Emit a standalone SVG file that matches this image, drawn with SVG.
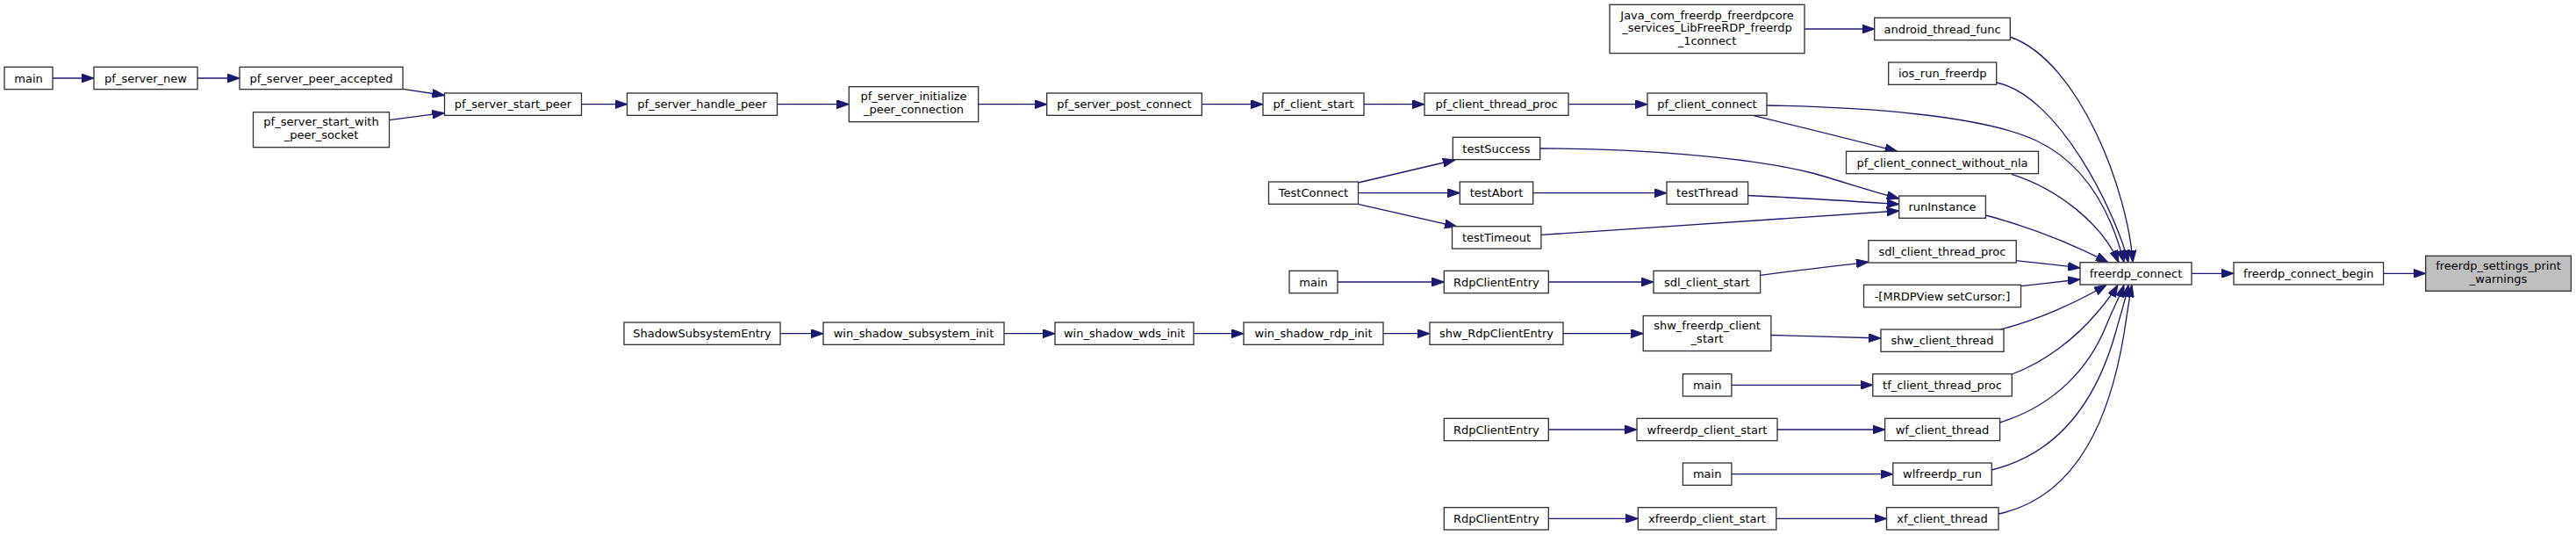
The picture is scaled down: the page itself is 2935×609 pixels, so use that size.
<svg xmlns="http://www.w3.org/2000/svg" width="2935" height="609" viewBox="0 0 2935 609">
<style>
.n rect{fill:#fff;stroke:#333;stroke-width:1.33}
.n.hl rect{fill:#bfbfbf}
.n text{font-family:"DejaVu Sans","Liberation Sans",sans-serif;font-size:13px;text-anchor:middle;fill:#000}
.e path{fill:none;stroke:#191970;stroke-width:1.33;marker-end:url(#a)}
</style>
<defs>
<marker id="a" markerUnits="userSpaceOnUse" markerWidth="14" markerHeight="10" refX="13.3" refY="4.67" orient="auto" viewBox="0 0 13.3 9.34">
<path d="M0,0 L13.3,4.67 L0,9.34 z" fill="#191970" stroke="#191970" stroke-width="1"/>
</marker>
</defs>
<rect width="2935" height="609" fill="#fff"/>
<g class="e" id="connectors">
<path d="M60,89 H107"/>
<path d="M225,89 H273"/>
<path d="M459,101.3 C473,103.3 489,105.8 506.5,108.5"/>
<path d="M443.5,136.7 C463,134 485,131.2 506.5,128.6"/>
<path d="M662.5,118.7 H714.5"/>
<path d="M885.5,118.7 H967.3"/>
<path d="M1114.7,118.7 H1192.7"/>
<path d="M1369.3,118.7 H1439"/>
<path d="M1554,118.7 H1623"/>
<path d="M1787,118.7 H1877"/>
<path d="M2056,33 H2135.7"/>
<path d="M2290.3,42 C2370,70 2425,220 2430,298.7"/>
<path d="M2274.7,94 C2345,108 2410,240 2425,298.7"/>
<path d="M2013,120 C2130,122 2260,132 2320,160 C2375,186 2405,240 2420,298.7"/>
<path d="M1998,131.7 C2050,144 2110,159 2161.7,172.3"/>
<path d="M2292,198.3 C2345,215 2395,255 2414,298.7"/>
<path d="M1754.7,169 C1860,169 1990,178 2065,197 C2097,206 2130,217 2163.7,226"/>
<path d="M1547.3,208 L1658,182"/>
<path d="M1547.5,219.7 H1663.3"/>
<path d="M1547.3,232.3 L1660,258"/>
<path d="M1746.7,219.7 H1899"/>
<path d="M1991.6,222.5 C2050,225 2110,229 2163.7,232.5"/>
<path d="M1755.9,267.3 C1900,258 2050,248 2163.7,240"/>
<path d="M2262.4,245 C2300,255 2350,272 2402,298.7"/>
<path d="M2297.2,296.7 C2320,299 2345,302 2370,305"/>
<path d="M1524,321 H1645.3"/>
<path d="M1764.3,321 H1884"/>
<path d="M2005.6,313.3 C2045,308 2088,303 2128.9,298.3"/>
<path d="M2302.6,325.7 C2325,323 2348,320.5 2370,318"/>
<path d="M889,379.7 H938"/>
<path d="M1144,379.7 H1202"/>
<path d="M1360,379.7 H1417"/>
<path d="M1576,379.7 H1629"/>
<path d="M1781,379.7 H1872.2"/>
<path d="M2017.9,381.5 C2060,382.5 2100,383.8 2143,385"/>
<path d="M2278.9,375 C2320,365 2365,345 2400,324.3"/>
<path d="M1973,438.3 H2133.8"/>
<path d="M2292.3,426 C2330,412 2365,385 2390,355 C2400,343 2408,333 2413,324.3"/>
<path d="M1764.3,489 H1865"/>
<path d="M2025,489 H2147.6"/>
<path d="M2278.5,481 C2340,462 2380,420 2400,370 C2408,350 2416,336 2420,324.3"/>
<path d="M1973,539.7 H2156.8"/>
<path d="M2269.3,535 C2350,515 2390,450 2410,380 C2417,355 2422,340 2425,324.3"/>
<path d="M1764.3,590.3 H1866.3"/>
<path d="M2023.8,590.3 H2149.5"/>
<path d="M2277,585 C2370,565 2405,470 2420,380 C2423,360 2426,340 2429,324.3"/>
<path d="M2497,311.3 H2545"/>
<path d="M2715.6,311.3 H2763.7"/>
</g>
<g class="n" id="main_pf"><rect x="5" y="76.3" width="55" height="25.33"/><text x="32.5" y="93.5">main</text></g>
<g class="n" id="pf_server_new"><rect x="107" y="76.3" width="118" height="25.33"/><text x="166" y="93.5">pf_server_new</text></g>
<g class="n" id="pf_server_peer_accepted"><rect x="273" y="76.3" width="186" height="25.33"/><text x="366" y="93.5">pf_server_peer_accepted</text></g>
<g class="n" id="pf_server_start_with_peer_socket"><rect x="288.5" y="127.7" width="155" height="40"/><text x="366" y="143.3">pf_server_start_with</text><text x="366" y="158.3">_peer_socket</text></g>
<g class="n" id="pf_server_start_peer"><rect x="506.5" y="106" width="156" height="25.33"/><text x="584.5" y="123.2">pf_server_start_peer</text></g>
<g class="n" id="pf_server_handle_peer"><rect x="714.5" y="106" width="171" height="25.33"/><text x="800" y="123.2">pf_server_handle_peer</text></g>
<g class="n" id="ShadowSubsystemEntry"><rect x="711" y="367" width="178" height="25.33"/><text x="800" y="384.2">ShadowSubsystemEntry</text></g>
<g class="n" id="pf_server_initialize_peer_connection"><rect x="967.3" y="98.7" width="147.4" height="40"/><text x="1041" y="114.3">pf_server_initialize</text><text x="1041" y="129.3">_peer_connection</text></g>
<g class="n" id="win_shadow_subsystem_init"><rect x="938" y="367" width="206" height="25.33"/><text x="1041" y="384.2">win_shadow_subsystem_init</text></g>
<g class="n" id="pf_server_post_connect"><rect x="1192.7" y="106" width="176.6" height="25.33"/><text x="1281" y="123.2">pf_server_post_connect</text></g>
<g class="n" id="win_shadow_wds_init"><rect x="1202" y="367" width="158" height="25.33"/><text x="1281" y="384.2">win_shadow_wds_init</text></g>
<g class="n" id="pf_client_start"><rect x="1439" y="106" width="115" height="25.33"/><text x="1496.5" y="123.2">pf_client_start</text></g>
<g class="n" id="TestConnect"><rect x="1445.5" y="207" width="102" height="25.33"/><text x="1496.5" y="224.2">TestConnect</text></g>
<g class="n" id="main_sdl"><rect x="1469" y="308.3" width="55" height="25.33"/><text x="1496.5" y="325.5">main</text></g>
<g class="n" id="win_shadow_rdp_init"><rect x="1417" y="367" width="159" height="25.33"/><text x="1496.5" y="384.2">win_shadow_rdp_init</text></g>
<g class="n" id="pf_client_thread_proc"><rect x="1623" y="106" width="164" height="25.33"/><text x="1705" y="123.2">pf_client_thread_proc</text></g>
<g class="n" id="testSuccess"><rect x="1655.3" y="156.3" width="99.4" height="25.33"/><text x="1705" y="173.5">testSuccess</text></g>
<g class="n" id="testAbort"><rect x="1663.3" y="207" width="83.4" height="25.33"/><text x="1705" y="224.2">testAbort</text></g>
<g class="n" id="testTimeout"><rect x="1654.5" y="257.7" width="101.4" height="25.33"/><text x="1705" y="274.9">testTimeout</text></g>
<g class="n" id="RdpClientEntry_sdl"><rect x="1645.3" y="308.3" width="119" height="25.33"/><text x="1704.8" y="325.5">RdpClientEntry</text></g>
<g class="n" id="shw_RdpClientEntry"><rect x="1629" y="367" width="152" height="25.33"/><text x="1705" y="384.2">shw_RdpClientEntry</text></g>
<g class="n" id="RdpClientEntry_wf"><rect x="1645.3" y="476.3" width="119" height="25.33"/><text x="1704.8" y="493.5">RdpClientEntry</text></g>
<g class="n" id="RdpClientEntry_xf"><rect x="1645.3" y="577.7" width="119" height="25.33"/><text x="1704.8" y="594.9">RdpClientEntry</text></g>
<g class="n" id="Java_connect"><rect x="1834" y="5.3" width="222" height="55.33"/><text x="1945" y="21.7">Java_com_freerdp_freerdpcore</text><text x="1945" y="36.3">_services_LibFreeRDP_freerdp</text><text x="1945" y="51">_1connect</text></g>
<g class="n" id="pf_client_connect"><rect x="1877" y="106" width="136" height="25.33"/><text x="1945" y="123.2">pf_client_connect</text></g>
<g class="n" id="testThread"><rect x="1899" y="207" width="92.6" height="25.33"/><text x="1945.3" y="224.2">testThread</text></g>
<g class="n" id="sdl_client_start"><rect x="1884" y="308.3" width="121.6" height="25.33"/><text x="1944.8" y="325.5">sdl_client_start</text></g>
<g class="n" id="shw_freerdp_client_start"><rect x="1872.2" y="359.5" width="145.7" height="40"/><text x="1945" y="375.1">shw_freerdp_client</text><text x="1945" y="390.1">_start</text></g>
<g class="n" id="main_tf"><rect x="1917.4" y="425.7" width="55.5" height="25.33"/><text x="1945.2" y="442.9">main</text></g>
<g class="n" id="wfreerdp_client_start"><rect x="1865" y="476.3" width="160" height="25.33"/><text x="1945" y="493.5">wfreerdp_client_start</text></g>
<g class="n" id="main_wl"><rect x="1917.4" y="527" width="55.5" height="25.33"/><text x="1945.2" y="544.2">main</text></g>
<g class="n" id="xfreerdp_client_start"><rect x="1866.3" y="577.7" width="157.5" height="25.33"/><text x="1945" y="594.9">xfreerdp_client_start</text></g>
<g class="n" id="android_thread_func"><rect x="2135.7" y="20.3" width="154.6" height="25.33"/><text x="2213" y="37.5">android_thread_func</text></g>
<g class="n" id="ios_run_freerdp"><rect x="2151.7" y="71" width="123" height="25.33"/><text x="2213.2" y="88.2">ios_run_freerdp</text></g>
<g class="n" id="pf_client_connect_without_nla"><rect x="2103.5" y="172.3" width="219" height="25.33"/><text x="2213" y="189.5">pf_client_connect_without_nla</text></g>
<g class="n" id="runInstance"><rect x="2163.7" y="223" width="98.7" height="25.33"/><text x="2213" y="240.2">runInstance</text></g>
<g class="n" id="sdl_client_thread_proc"><rect x="2128.9" y="273.7" width="168.3" height="25.33"/><text x="2213" y="290.9">sdl_client_thread_proc</text></g>
<g class="n" id="MRDPView_setCursor"><rect x="2123.5" y="324.3" width="179" height="25.33"/><text x="2213" y="341.5">-[MRDPView setCursor:]</text></g>
<g class="n" id="shw_client_thread"><rect x="2143" y="375" width="140" height="25.33"/><text x="2213" y="392.2">shw_client_thread</text></g>
<g class="n" id="tf_client_thread_proc"><rect x="2133.8" y="425.7" width="158.5" height="25.33"/><text x="2213" y="442.9">tf_client_thread_proc</text></g>
<g class="n" id="wf_client_thread"><rect x="2147.6" y="476.3" width="131" height="25.33"/><text x="2213" y="493.5">wf_client_thread</text></g>
<g class="n" id="wlfreerdp_run"><rect x="2156.8" y="527" width="112.5" height="25.33"/><text x="2213" y="544.2">wlfreerdp_run</text></g>
<g class="n" id="xf_client_thread"><rect x="2149.5" y="577.7" width="127.5" height="25.33"/><text x="2213" y="594.9">xf_client_thread</text></g>
<g class="n" id="freerdp_connect"><rect x="2370" y="298.7" width="127" height="25.33"/><text x="2433.5" y="315.9">freerdp_connect</text></g>
<g class="n" id="freerdp_connect_begin"><rect x="2545" y="298.7" width="170.6" height="25.33"/><text x="2630.3" y="315.9">freerdp_connect_begin</text></g>
<g class="n hl" id="freerdp_settings_print_warnings"><rect x="2763.7" y="291.3" width="165.7" height="40"/><text x="2846.5" y="306.9">freerdp_settings_print</text><text x="2846.5" y="321.9">_warnings</text></g>
</svg>
